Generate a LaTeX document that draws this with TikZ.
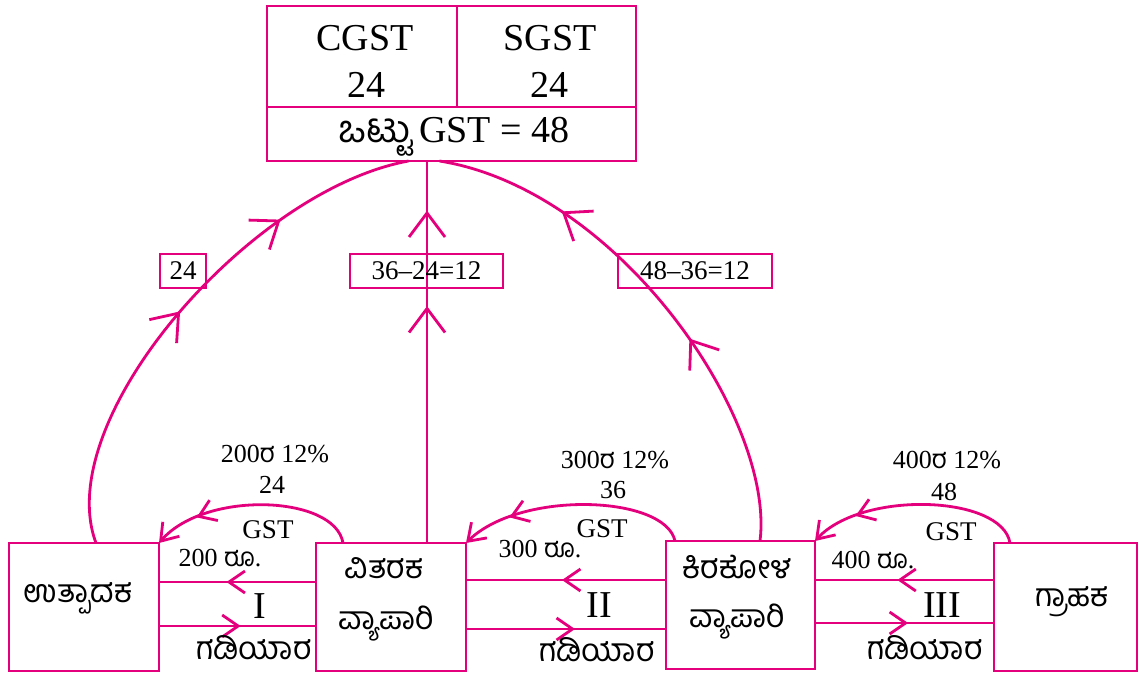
\documentclass[tikz,border=0pt]{standalone}
\usepackage{fontspec}
\setmainfont{Liberation Serif}
\newfontfamily\kn[Script=Kannada]{Hind Mysuru}
\usetikzlibrary{arrows.meta,decorations.markings}
\definecolor{gstpink}{RGB}{228,0,124}
\newcommand{\knr}{\smash{\kn ರ}}
\tikzset{
  smallbarb/.tip={Straight Barb[length=16pt,width=22pt]},
  bigbarb/.tip={Straight Barb[length=24pt,width=36pt]},
  tipat/.style={postaction={decorate,decoration={markings,mark=at position #1 with {\arrow{smallbarb}}}}},
  bigtipat/.style={postaction={decorate,decoration={markings,mark=at position #1 with {\arrow{bigbarb}}}}},
}
\begin{document}
\begin{tikzpicture}[x=1pt,y=-1pt,
  every node/.style={inner sep=0pt,outer sep=0pt},
  frame/.style={draw=gstpink,line width=2.8pt},
  tag/.style={draw=gstpink,line width=2.2pt,font=\fontsize{27}{29}\selectfont,minimum height=34pt},
  conn/.style={draw=gstpink,line width=2.8pt},
  big/.style={font=\fontsize{38}{40}\selectfont,anchor=base},
  small/.style={font=\fontsize{26}{28}\selectfont,anchor=base},
  gst/.style={font=\fontsize{27}{29}\selectfont,anchor=base},
  kbig/.style={font=\kn\fontsize{32}{34}\selectfont,anchor=base},
]
\useasboundingbox (0,0) rectangle (1139,675);

% tax collection table
\node[frame,minimum width=190pt,minimum height=101pt] (tl) at (362,56.5) {};
\node[frame,minimum width=179pt,minimum height=101pt] (tr) at (546.5,56.5) {};
\node[frame,minimum width=369pt,minimum height=54pt] (tb) at (451.5,134) {};
\node[big] (cgst) at (365,50) {CGST};
\node[big] (cval) at (366,97) {24};
\node[big] (sgst) at (550,50) {SGST};
\node[big] (sval) at (549,97) {24};
\node[big] (total) at (454,142) {{\kn ಒಟ್ಟು}\,GST = 48};

% traders along the supply chain
\node[frame,minimum width=150pt,minimum height=128pt] (b1) at (84,607) {};
\node[frame,minimum width=150pt,minimum height=128pt] (b2) at (391,607) {};
\node[frame,minimum width=149pt,minimum height=128pt] (b3) at (740.5,605) {};
\node[frame,minimum width=143pt,minimum height=128pt] (b4) at (1065.5,607) {};
\node[kbig] (n1) at (78,602) {ಉತ್ಪಾದಕ};
\node[kbig] (n2a) at (384,578) {ವಿತರಕ};
\node[kbig] (n2b) at (386,629) {ವ್ಯಾಪಾರಿ};
\node[kbig] (n3a) at (737,578) {ಕಿರಕೋಳ};
\node[kbig] (n3b) at (737,627) {ವ್ಯಾಪಾರಿ};
\node[kbig] (n4) at (1072,606) {ಗ್ರಾಹಕ};

% money and goods flows
\coordinate (u1) at ([yshift=25pt]b2.west);
\coordinate (l1) at ([yshift=-19pt]b1.east);
\coordinate (u2) at ([yshift=25pt]b3.west);
\coordinate (l2) at ([yshift=-22pt]b2.east);
\coordinate (u3) at ([yshift=27pt]b4.west);
\coordinate (l3) at ([yshift=-18pt]b3.east);
\draw[conn,tipat=0.57] (u1) -- (u1 -| b1.east);
\draw[conn,tipat=0.52] (l1) -- (l1 -| b2.west);
\draw[conn,tipat=0.52] (u2) -- (u2 -| b2.east);
\draw[conn,tipat=0.545] (l2) -- (l2 -| b3.west);
\draw[conn,tipat=0.54] (u3) -- (u3 -| b3.east);
\draw[conn,tipat=0.52] (l3) -- (l3 -| b4.west);

\node[small] (m1) at (220,566) {200 {\kn ರೂ}.};
\node[big] (r1) at (260,618) {I};
\node[kbig] (g1) at (254,659) {ಗಡಿಯಾರ};
\node[small] (m2) at (540,557) {300 {\kn ರೂ}.};
\node[big] (r2) at (599,617) {II};
\node[kbig] (g2) at (597,661) {ಗಡಿಯಾರ};
\node[small] (m3) at (873,568) {400 {\kn ರೂ}.};
\node[big] (r3) at (942,617) {III};
\node[kbig] (g3) at (925,659) {ಗಡಿಯಾರ};

% GST paid at each sale
\draw[conn,tipat=0.78,-{smallbarb}] ([xshift=27pt]b2.north west) .. controls (335,495) and (205,490) .. (b1.north east);
\draw[conn,tipat=0.78,-{smallbarb}] ([xshift=9pt]b3.north west) .. controls (665,495) and (520,490) .. (b2.north east);
\draw[conn,tipat=0.78,-{smallbarb}] ([xshift=16pt]b4.north west) .. controls (1002,495) and (862,490) .. (b3.north east);

\node[small] (p1) at (275,462) {200\knr{} 12\%};
\node[small] (v1) at (272,493) {24};
\node[gst] (s1) at (268,538) {GST};
\node[small] (p2) at (615,468) {300\knr{} 12\%};
\node[small] (v2) at (613,498) {36};
\node[gst] (s2) at (602,537) {GST};
\node[small] (p3) at (947,468) {400\knr{} 12\%};
\node[small] (v3) at (944,500) {48};
\node[gst] (s3) at (951,540) {GST};

% GST passed on to the government
\draw[conn,bigtipat=0.48,bigtipat=0.735] ([xshift=12pt]b1.north) .. controls (50,420) and (250,190) .. ([xshift=-43pt]tb.south);
\draw[conn,bigtipat=0.62,bigtipat=0.87] ([xshift=36pt]b2.north) -- ([xshift=-24.5pt]tb.south);
\draw[conn,bigtipat=0.41,bigtipat=0.75] ([xshift=19.5pt]b3.north) .. controls (775,420) and (620,190) .. ([xshift=-12pt]tb.south);

\node[tag,minimum width=46pt] (k1) at (183,271) {24};
\node[tag,minimum width=153pt] (k2) at (426.5,271) {36--24=12};
\node[tag,minimum width=154pt] (k3) at (695,271) {48--36=12};
\end{tikzpicture}
\end{document}
